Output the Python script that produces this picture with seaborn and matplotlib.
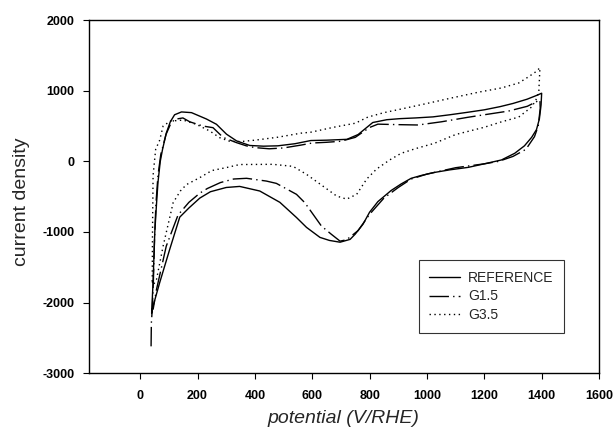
"""Cyclic voltammograms: REFERENCE vs G1.5 vs G3.5."""
import numpy as np, pandas as pd
import matplotlib
matplotlib.use('Agg')
import matplotlib.pyplot as plt
import seaborn as sns

# potential / current density (anodic sweep, then cathodic return)
ref_x = [40, 45, 51, 57, 62, 70, 78, 91, 105, 120, 144, 179, 231, 266, 301, 336, 382, 430, 480, 540,
         595, 650, 721, 760, 811, 860, 906, 960, 1021, 1080, 1140, 1200, 1255, 1300, 1349, 1380, 1400,
         1398, 1392, 1382, 1365, 1340, 1306, 1260, 1200, 1144, 1080, 1026, 980, 945, 910, 875, 829,
         800, 777, 750, 732, 697, 660, 627, 580, 545, 487, 417, 347, 300, 245, 208, 170, 138, 103,
         68, 45, 40]
ref_y = [-2150, -1700, -1000, -600, -300, 0, 170, 400, 560, 660, 700, 690, 600, 525, 385, 290, 225,
         215, 220, 250, 295, 300, 312, 380, 550, 590, 605, 615, 630, 660, 694, 730, 775, 820, 880,
         930, 965,
         800, 600, 450, 340, 220, 114, 20, -35, -85, -120, -157, -200, -240, -320, -413, -570,
         -720, -890, -1030, -1105, -1145, -1120, -1077, -935, -795, -580, -420, -355, -370, -430,
         -520, -660, -790, -1246, -1718, -2050, -2150]

g15_x = [38, 39, 42, 46, 50, 55, 62, 72, 90, 105, 120, 149, 173, 219, 254, 289, 336, 370, 400, 450,
         500, 560, 600, 650, 700, 750, 800, 829, 900, 969, 1050, 1144, 1200, 1284, 1350, 1394,
         1395, 1388, 1375, 1345, 1300, 1250, 1200, 1100, 1000, 945, 900, 850, 800, 760, 720, 697,
         667, 632, 574, 545, 475, 440, 371, 326, 280, 234, 208, 170, 132, 91, 57, 45]
g15_y = [-2620, -2290, -2100, -1700, -1100, -600, -200, 100, 380, 520, 595, 615, 560, 500, 477, 340,
         265, 220, 195, 178, 190, 230, 260, 270, 285, 340, 480, 527, 520, 515, 560, 625, 660, 712,
         780, 870,
         750, 500, 350, 170, 70, 0, -35, -90, -180, -250, -370, -520, -750, -980, -1110, -1130,
         -1034, -916, -585, -467, -312, -279, -240, -250, -300, -385, -450, -580, -760, -1200,
         -1813, -2100]

g35_x = [42, 43, 45, 54, 68, 80, 105, 150, 196, 243, 277, 312, 350, 400, 480, 560, 595, 676, 750,
         794, 850, 910, 1000, 1085, 1180, 1260, 1320, 1354, 1380, 1394,
         1392, 1390, 1380, 1365, 1320, 1260, 1201, 1100, 1026, 960, 910, 870, 824, 790, 755, 720,
         685, 637, 580, 533, 463, 420, 347, 304, 250, 208, 161, 140, 115, 80, 57, 46, 42]
g35_y = [-1700, -1000, -200, 170, 300, 500, 570, 585, 524, 429, 336, 285, 280, 300, 342, 399, 413,
         484, 540, 627, 690, 741, 820, 897, 980, 1040, 1110, 1197, 1270, 1325,
         1150, 983, 870, 770, 627, 560, 484, 380, 256, 180, 114, 20, -110, -250, -467, -535,
         -491, -350, -184, -71, -42, -43, -45, -85, -130, -230, -330, -420, -585, -1200, -1671,
         -1750, -1700]

series = ['REFERENCE', 'G1.5', 'G3.5']
xs = [ref_x, g15_x, g35_x]
ys = [ref_y, g15_y, g35_y]

df = pd.concat([pd.DataFrame({'potential': x, 'current': y, 'series': s})
                for s, x, y in zip(series, xs, ys)], ignore_index=True)

sns.set_theme(style='ticks')
plt.rcParams['font.family'] = ['Liberation Sans', 'DejaVu Sans']
plt.rcParams['axes.unicode_minus'] = False

fig = plt.figure(figsize=(6.15, 4.38), dpi=100)
ax = fig.add_axes([0.144, 0.148, 0.830, 0.806])

dashes = {'REFERENCE': '', 'G1.5': (14, 3, 1, 3), 'G3.5': (1, 2.5)}
sns.lineplot(data=df, x='potential', y='current', hue='series', style='series',
             hue_order=series, style_order=series,
             palette={s: 'black' for s in series}, dashes=dashes,
             sort=False, estimator=None, linewidth=1.0, ax=ax)

ax.set_xlim(-180, 1600)
ax.set_ylim(-3000, 2000)
ax.set_xticks(range(0, 1601, 200))
ax.set_yticks(range(-3000, 2001, 1000))
ax.tick_params(direction='out', length=4, width=0.8, labelsize=9, colors='black')
ax.tick_params(axis='x', pad=8)
ax.tick_params(axis='y', pad=6)
for lab in ax.get_xticklabels() + ax.get_yticklabels():
    lab.set_fontweight('bold')
for sp in ax.spines.values():
    sp.set_visible(True)
    sp.set_color('black')
    sp.set_linewidth(1.0)

ax.set_xlabel('potential (V/RHE)', fontsize=14, style='italic')
ax.set_ylabel('current density', fontsize=14)
ax.xaxis.set_label_coords(0.5, -0.105)
ax.yaxis.set_label_coords(-0.115, 0.485)

handles, labels = ax.get_legend_handles_labels()
leg = ax.legend(handles, labels, loc='upper left', bbox_to_anchor=(0.647, 0.320),
                borderaxespad=0, borderpad=0.75, handlelength=2.2, handletextpad=0.6,
                labelspacing=0.35, fontsize=10, frameon=True, fancybox=False)
leg.get_frame().set_edgecolor('black')
leg.get_frame().set_linewidth(0.8)

plt.savefig('out.png', dpi=100)
plt.close()
